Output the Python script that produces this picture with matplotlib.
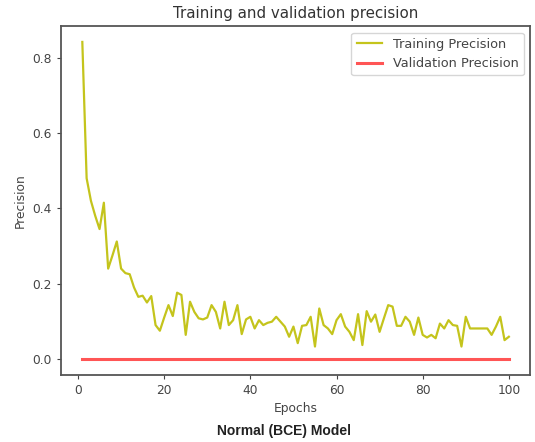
import matplotlib
matplotlib.use("Agg")
import matplotlib.pyplot as plt

# per-epoch precision from the BCE training run
epochs = list(range(1, 101))
train_precision = [
	0.842, 0.480, 0.420, 0.380, 0.345, 0.415, 0.240, 0.275, 0.312, 0.240,
	0.228, 0.225, 0.190, 0.165, 0.168, 0.150, 0.167, 0.090, 0.075, 0.110,
	0.143, 0.114, 0.176, 0.170, 0.064, 0.152, 0.125, 0.108, 0.105, 0.110,
	0.143, 0.125, 0.081, 0.152, 0.090, 0.103, 0.143, 0.066, 0.105, 0.112,
	0.081, 0.103, 0.090, 0.096, 0.099, 0.112, 0.099, 0.086, 0.059, 0.086,
	0.042, 0.088, 0.090, 0.112, 0.033, 0.134, 0.090, 0.081, 0.066, 0.103,
	0.119, 0.086, 0.072, 0.050, 0.119, 0.037, 0.127, 0.099, 0.118, 0.072,
	0.108, 0.143, 0.139, 0.088, 0.088, 0.112, 0.099, 0.064, 0.110, 0.064,
	0.057, 0.064, 0.055, 0.094, 0.081, 0.103, 0.090, 0.088, 0.033, 0.112,
	0.081, 0.081, 0.081, 0.081, 0.081, 0.064, 0.086, 0.112, 0.050, 0.059,
]
val_precision = [0.0] * 100

fig = plt.figure(figsize=(5.35, 4.42), dpi=100)
ax = fig.add_axes([0.114, 0.152, 0.877, 0.789])

ax.plot(epochs, train_precision, color='#c4c41c', linewidth=1.6, label='Training Precision')
ax.plot(epochs, val_precision, color='#ff5555', linewidth=2.2, label='Validation Precision')

ax.set_title('Training and validation precision', fontsize=10.8, color='#333333')
ax.set_xlabel('Epochs', fontsize=8.8, color='#444444')
ax.set_ylabel('Precision', fontsize=8.8, color='#444444')
ax.tick_params(labelsize=8.8, colors='#444444', length=3)
for side in ax.spines.values():
	side.set_color('#555555')
	side.set_linewidth(1.3)

leg = ax.legend(loc='upper right', fontsize=9.3, frameon=True)
for txt in leg.get_texts():
	txt.set_color('#444444')

fig.text(0.53, 0.016, 'Normal (BCE) Model', ha='center', fontsize=10,
	fontweight='bold', color='#222222', family='Liberation Sans')

fig.savefig('out.png', dpi=100)
